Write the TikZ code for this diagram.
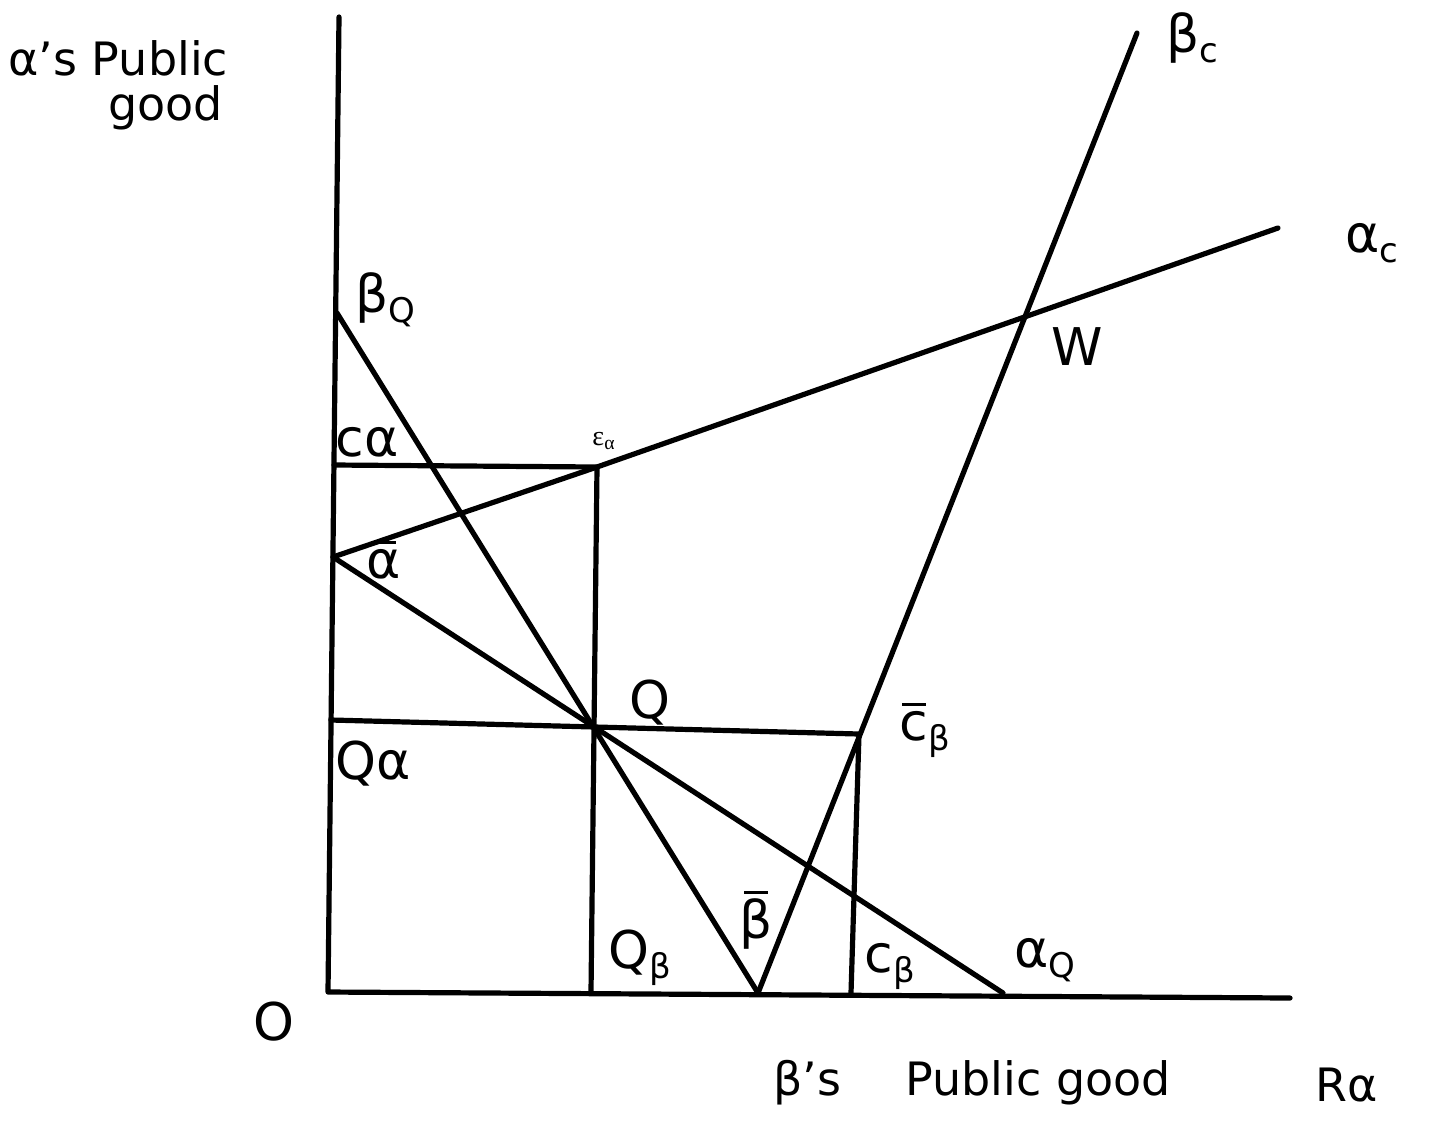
\documentclass[tikz,border=0pt]{standalone}
\usepackage{fontspec}
\setmainfont{DejaVu Sans}
\newfontfamily\smallserif{Liberation Serif}
\newcommand\barred[1]{\leavevmode\vbox{\offinterlineskip\halign{\hfil##\hfil\cr\rule{0.45em}{1.6pt}\cr\noalign{\kern2.5pt}#1\cr}}}
\newcommand\lsub[1]{\raisebox{-0.35ex}{\fontsize{17}{18}\selectfont #1}}
\begin{document}
\begin{tikzpicture}[x=0.5pt,y=-0.5pt,
  ln/.style={line width=2.6pt,line cap=round,line join=round},
  lbl/.style={font=\fontsize{26}{28}\selectfont,inner sep=0pt},
  ttl/.style={font=\fontsize{23}{25}\selectfont,inner sep=0pt},
  tiny/.style={font=\smallserif\fontsize{14}{15}\selectfont,inner sep=0pt}]
\useasboundingbox (0,0) rectangle (1433,1126);
% points
\coordinate (ytop) at (339,17);
\coordinate (O) at (328,992);
\coordinate (xend) at (1290,998);
\coordinate (bQ) at (337,313);
\coordinate (abar) at (333,557);
\coordinate (ca) at (334,465);
\coordinate (ea) at (597,467);
\coordinate (acend) at (1278,228);
\coordinate (Qa) at (331,720);
\coordinate (Q) at (593,727);
\coordinate (cbbar) at (859,734);
\coordinate (Qb) at (591,992);
\coordinate (bbar) at (758,993);
\coordinate (cb) at (851,993);
\coordinate (aQ) at (1003,993);
\coordinate (bcend) at (1137,33);
% axes
\draw[ln] (ytop) -- (O) -- (xend);
% lines
\draw[ln] (bQ) -- (bbar);
\draw[ln] (abar) -- (aQ);
\draw[ln] (abar) -- (ea) -- (acend);
\draw[ln] (ca) -- (ea) -- (Qb);
\draw[ln] (Qa) -- (cbbar) -- (cb);
\draw[ln] (bbar) -- (bcend);
% labels
\node[ttl,anchor=west] (tA1) at (8,58) {α's Public};
\node[ttl,anchor=west] (tA2) at (108,108) {good};
\node[lbl] (tBQ) at (385,300) {β\lsub{Q}};
\node[lbl] (tca) at (367,442) {cα};
\node[tiny] (tea) at (604,441) {ε\textsubscript{α}};
\node[lbl] (tabar) at (384,560) {\barred{α}};
\node[lbl] (tQ) at (650,703) {Q};
\node[lbl] (tQa) at (373,764) {Qα};
\node[lbl] (tQb) at (640,958) {Q\lsub{β}};
\node[lbl] (tbbar) at (756,920) {\barred{β}};
\node[lbl] (tcb) at (890,966) {c\lsub{β}};
\node[lbl] (taQ) at (1045,960) {α\lsub{Q}};
\node[lbl] (tcbbar) at (925,730) {\barred{c}\lsub{β}};
\node[lbl] (tW) at (1077,347) {W};
\node[lbl] (tac) at (1372,243) {α\lsub{c}};
\node[lbl] (tbc) at (1192,38) {β\lsub{c}};
\node[lbl] (tO) at (274,1022) {O};
\node[ttl] (tbpg) at (972,1083) {β's\hspace{1.4em}Public good};
\node[ttl] (tRa) at (1347,1085) {Rα};
\end{tikzpicture}
\end{document}
